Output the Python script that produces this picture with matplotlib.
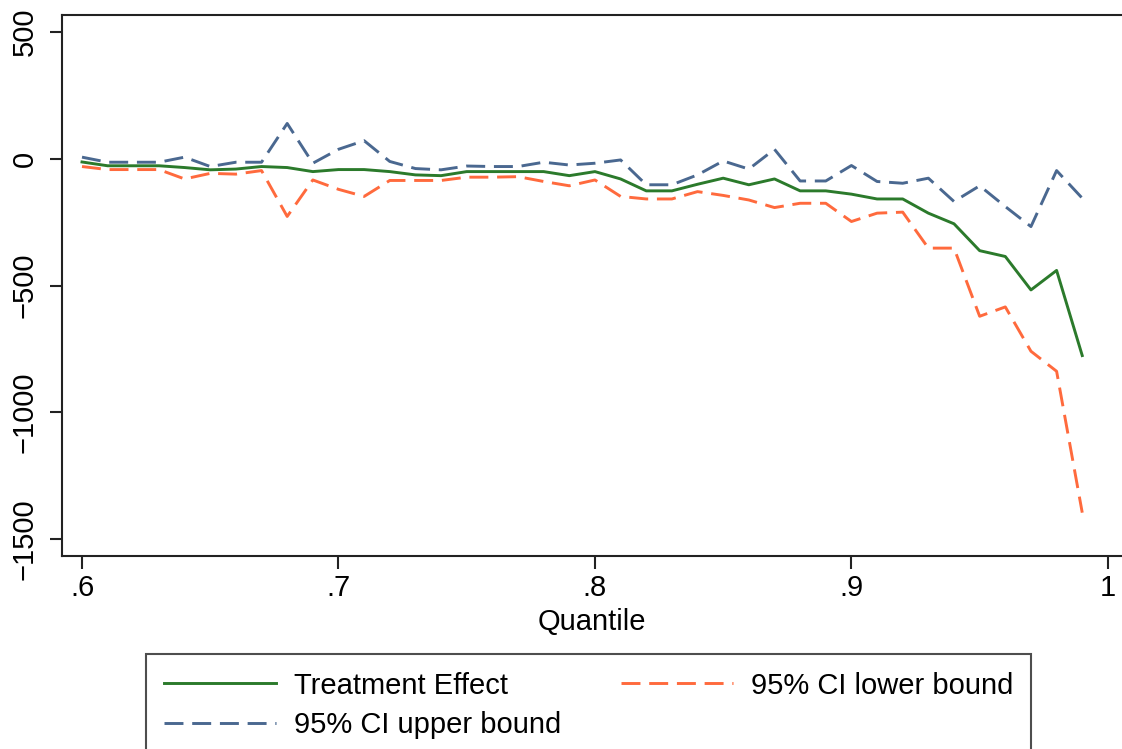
import numpy as np
import matplotlib
matplotlib.use("Agg")
import matplotlib.pyplot as plt

plt.rcParams['font.family'] = ['Liberation Sans', 'DejaVu Sans']

# quantiles .60 ... .99
quantile = np.round(np.arange(60, 100) / 100, 2)

effect = [-12, -27, -27, -27, -34, -43, -40, -30, -34, -50,
          -42, -42, -50, -63, -66, -50, -50, -50, -50, -66,
          -50, -79, -126, -126, -100, -76, -102, -79, -126, -126,
          -139, -158, -158, -214, -256, -362, -385, -517, -440, -776]

ci_lower = [-30, -42, -42, -42, -79, -57, -60, -46, -227, -83,
            -120, -148, -85, -85, -85, -72, -72, -70, -89, -106,
            -83, -148, -158, -158, -129, -144, -162, -192, -175, -175,
            -247, -214, -210, -352, -352, -621, -584, -759, -838, -1396]

ci_upper = [7, -13, -13, -13, 7, -30, -13, -13, 140, -17,
            38, 72, -10, -38, -43, -28, -30, -30, -13, -24,
            -17, -4, -102, -102, -63, -8, -40, 38, -87, -87,
            -26, -89, -96, -76, -168, -106, -188, -267, -46, -155]

xticks = [0.6, 0.7, 0.8, 0.9, 1.0]
xtick_labels = ['.6', '.7', '.8', '.9', '1']
yticks = [500, 0, -500, -1000, -1500]
ytick_labels = ['500', '0', '\u2212500', '\u22121000', '\u22121500']

fig = plt.figure(figsize=(11.22, 7.49), dpi=100)
ax = fig.add_axes([62 / 1122, 193 / 749, 1060 / 1122, 541 / 749])

l_te, = ax.plot(quantile, effect, color='#2b7a2b', lw=2.1,
                label='Treatment Effect')
l_lo, = ax.plot(quantile, ci_lower, color='#ff6a3d', lw=2.1,
                dashes=(6.5, 3), label='95% CI lower bound')
l_up, = ax.plot(quantile, ci_upper, color='#4a6890', lw=2.1,
                dashes=(6.5, 3), label='95% CI upper bound')

ax.set_xlim(0.5922, 1.0055)
ax.set_ylim(-1567, 568)
ax.set_xticks(xticks)
ax.set_xticklabels(xtick_labels)
ax.set_yticks(yticks)
ax.set_yticklabels(ytick_labels, rotation=90, va='center')
ax.tick_params(axis='both', labelsize=21, length=9, width=1.5, color='#222222')
ax.tick_params(axis='y', pad=8)
ax.tick_params(axis='x', pad=4)
ax.set_xlabel('Quantile', fontsize=21, labelpad=4)

for side in ['left', 'top', 'bottom']:
    ax.spines[side].set_linewidth(1.5)
    ax.spines[side].set_color('#222222')
ax.spines['right'].set_visible(False)

leg = fig.legend(handles=[l_te, l_up, l_lo], ncol=2, loc='upper left',
                 bbox_to_anchor=(146 / 1122, 95 / 749), fontsize=21,
                 frameon=True, fancybox=False, edgecolor='#222222',
                 handlelength=3.85, handletextpad=0.62, columnspacing=2.05,
                 borderpad=0.6, labelspacing=0.4, borderaxespad=0)
leg.get_frame().set_linewidth(1.5)

fig.savefig('out.png', dpi=100)
